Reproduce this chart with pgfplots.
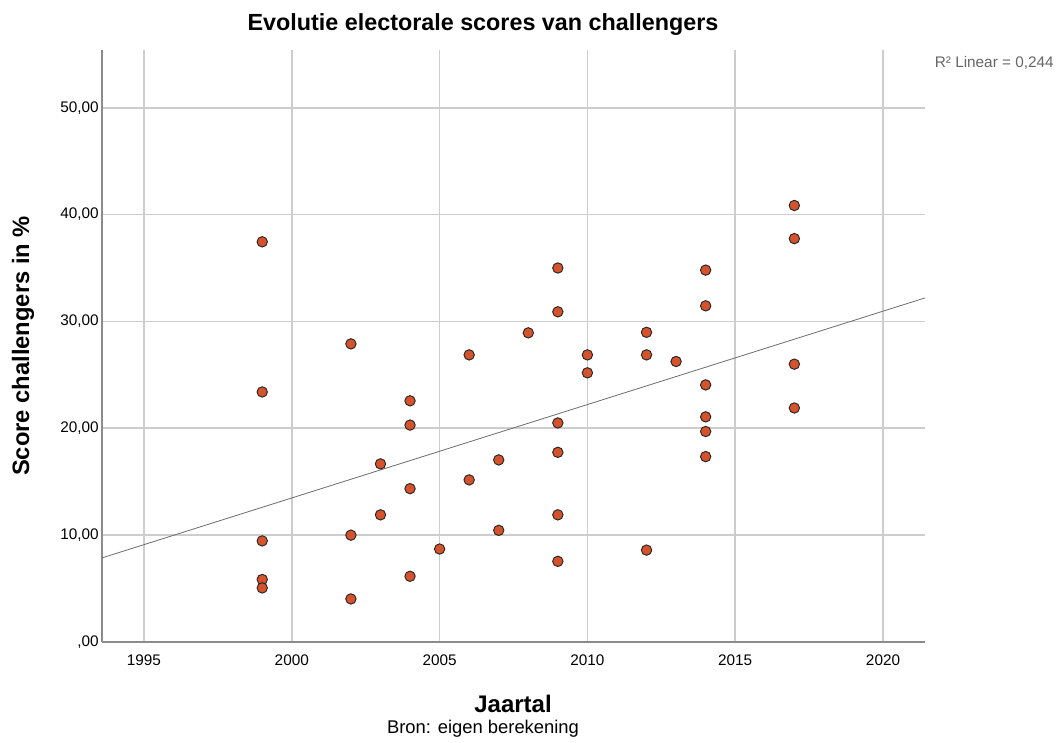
\documentclass[border=0pt]{standalone}
\usepackage{pgfplots}
\pgfplotsset{compat=1.18}
\usepackage{fontspec}
\setmainfont{Liberation Sans}
\definecolor{dotfill}{RGB}{212,82,44}
\definecolor{gridc}{RGB}{205,205,205}
\definecolor{axc}{RGB}{140,140,140}
\begin{document}
\begin{tikzpicture}
\begin{axis}[
  at={(76.5pt,71.25pt)}, anchor=south west,
  scale only axis, width=617.25pt, height=444pt,
  xmin=1993.58, xmax=2021.42, ymin=0, ymax=55.4,
  axis x line*=bottom, axis y line*=left,
  axis line style={axc, line width=1.5pt},
  xtick={1995,2000,2005,2010,2015,2020},
  xticklabels={1995,2000,2005,2010,2015,2020},
  ytick={0,10,20,30,40,50},
  yticklabels={{,00},{10,00},{20,00},{30,00},{40,00},{50,00}},
  tick style={draw=none},
  grid=major, major grid style={gridc, line width=1.3pt},
  ticklabel style={font=\fontsize{11.5}{13}\selectfont},
  xticklabel style={yshift=-6pt},
  yticklabel style={xshift=1pt},
  clip=false,
]
\addplot[only marks, mark=*, mark size=3.9pt, mark options={fill=dotfill, draw=black!85, line width=0.7pt}] coordinates {
(1999,37.45) (1999,23.4) (1999,9.46) (1999,5.85) (1999,5.06)
(2002,27.9) (2002,10.0) (2002,4.03)
(2003,16.67) (2003,11.9)
(2004,22.57) (2004,20.3) (2004,14.35) (2004,6.15)
(2005,8.7)
(2006,26.87) (2006,15.17)
(2007,17.04) (2007,10.45)
(2008,28.93)
(2009,35.0) (2009,30.9) (2009,20.5) (2009,17.75) (2009,11.9) (2009,7.55)
(2010,26.87) (2010,25.19)
(2012,28.98) (2012,26.87) (2012,8.6)
(2013,26.25)
(2014,34.8) (2014,31.46) (2014,24.06) (2014,21.07) (2014,19.7) (2014,17.35)
(2017,40.85) (2017,37.75) (2017,26.0) (2017,21.9)
};
\addplot[gray!85!black, line width=0.6pt] coordinates {(1993.58,7.87) (2021.42,32.2)};
\end{axis}
\begin{scope}[x=0.75pt,y=-0.75pt,yshift=552.75pt]
\node[font=\bfseries\fontsize{17.5}{20}\selectfont] at (483,25) {Evolutie electorale scores van challengers};
\node[font=\bfseries\fontsize{18}{21}\selectfont] at (513,704) {Jaartal};
\node[font=\fontsize{13.8}{16}\selectfont] at (483,729) {Bron: eigen berekening};
\node[font=\bfseries\fontsize{17.8}{21}\selectfont, rotate=90] at (23,346) {Score challengers in \%};
\node[font=\fontsize{11.5}{13}\selectfont, text=gray!80!black, anchor=east, inner sep=0pt] at (1054,63) {R² Linear = 0,244};
\end{scope}
\path[use as bounding box] (0,0) rectangle (794.25pt,552.75pt);
\end{tikzpicture}
\end{document}
